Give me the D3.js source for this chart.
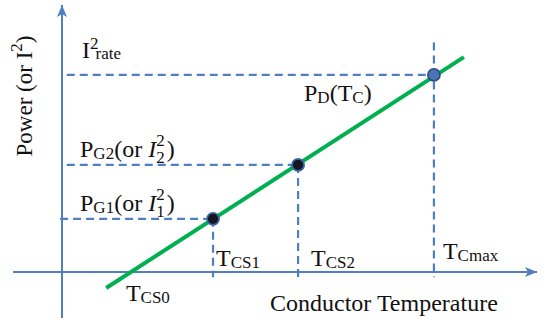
<!DOCTYPE html>
<html>
<head>
<meta charset="utf-8">
<script src="https://cdn.jsdelivr.net/npm/d3@7"></script>
<style>
  html, body { margin: 0; padding: 0; background: #fff; }
  svg text { font-family: "Liberation Serif", "Times New Roman", serif; fill: #111; }
</style>
</head>
<body>
<svg id="chart" width="546" height="322"></svg>
<script>
// Operating points on the power–temperature characteristic (arbitrary units)
const pointNames  = ["G1", "G2", "D"];
const pointTemps  = [31.8, 49.7, 78.3];
const pointPowers = [19.9, 40.1, 73.8];

// Straight characteristic P_D(T_C), given by its two end points
const lineTemps  = [9.3, 84.6];
const linePowers = [-6.0, 80.5];

// Crossing of the characteristic with the temperature axis
const tcs0 = 14.5;

// Extents of the guide lines and axes
const hGuideStart = [-0.4, 1.0, 1.0];   // left end of each horizontal guide
const vGuideTop   = [19.9, 40.1, 86.0]; // top end of each vertical guide
const guideBottom = -2.0;
const xAxisExtent = [-10.3, 100];
const yAxisExtent = [-17.2, 100];

const blue = "#4f7fc0";
const green = "#00b050";

const svg = d3.select("#chart");
const x = d3.scaleLinear().domain([0, 100]).range([62, 537]);
const y = d3.scaleLinear().domain([0, 100]).range([272, 5]);

// arrow head marker
svg.append("defs").append("marker")
  .attr("id", "arrow").attr("viewBox", "0 0 12 10")
  .attr("refX", 12).attr("refY", 5)
  .attr("markerWidth", 12).attr("markerHeight", 10)
  .attr("markerUnits", "userSpaceOnUse")
  .attr("orient", "auto")
  .append("path").attr("d", "M0,0 L12,5 L0,10 L3,5 Z").attr("fill", blue);

// axes
svg.append("line")
  .attr("x1", x(xAxisExtent[0])).attr("y1", y(0))
  .attr("x2", x(xAxisExtent[1])).attr("y2", y(0))
  .attr("stroke", blue).attr("stroke-width", 2)
  .attr("marker-end", "url(#arrow)");
svg.append("line")
  .attr("x1", x(0)).attr("y1", y(yAxisExtent[0]))
  .attr("x2", x(0)).attr("y2", y(yAxisExtent[1]))
  .attr("stroke", blue).attr("stroke-width", 2)
  .attr("marker-end", "url(#arrow)");

// dashed guides
const dash = "8,5";
const g = svg.append("g").attr("stroke", blue).attr("stroke-width", 2.2)
  .attr("stroke-dasharray", dash).attr("fill", "none");
pointTemps.forEach((t, i) => {
  g.append("line")
    .attr("x1", x(hGuideStart[i])).attr("y1", y(pointPowers[i]))
    .attr("x2", x(t)).attr("y2", y(pointPowers[i]));
  g.append("line")
    .attr("x1", x(t)).attr("y1", y(vGuideTop[i]))
    .attr("x2", x(t)).attr("y2", y(guideBottom));
});

// characteristic line
svg.append("path")
  .datum(d3.zip(lineTemps, linePowers))
  .attr("d", d3.line().x(d => x(d[0])).y(d => y(d[1])))
  .attr("stroke", green).attr("stroke-width", 4).attr("fill", "none");

// operating points
svg.selectAll("circle.pt").data(pointNames).join("circle")
  .attr("class", "pt")
  .attr("cx", (d, i) => x(pointTemps[i]))
  .attr("cy", (d, i) => y(pointPowers[i]))
  .attr("r", 6)
  .attr("fill", d => d === "D" ? "#4a74b4" : "#16161f")
  .attr("stroke", d => d === "D" ? "#2d4f86" : "#3a64a8")
  .attr("stroke-width", 1.8);

// ---- labels ----
const FS = 24, SUB = 17;
function label(px, py, parts, anchor) {
  const t = svg.append("text").attr("x", px).attr("y", py)
    .attr("font-size", FS).attr("text-anchor", anchor || "start");
  parts.forEach(p => {
    const s = t.append("tspan").text(p.t);
    if (p.size) s.attr("font-size", p.size);
    if (p.dy) s.attr("dy", p.dy);
    if (p.dx) s.attr("dx", p.dx);
    if (p.italic) s.attr("font-style", "italic");
  });
  return t;
}

// I²rate
label(82, 58, [{t: "I"}, {t: "2", size: SUB, dy: -9}, {t: "rate", size: SUB, dy: 10, dx: -3}]);
// P_D(T_C)
label(304, 101, [{t: "P"}, {t: "D", size: SUB, dy: 2}, {t: "(T", dy: -2}, {t: "C", size: SUB, dy: 2}, {t: ")", dy: -2}]);
// P_G2(or I_2^2)
label(80, 157, [{t: "P"}, {t: "G2", size: SUB, dy: 2}, {t: "(or ", dy: -2}, {t: "I", italic: true},
  {t: "2", size: SUB, dy: -11}, {t: "2", size: SUB, dy: 17, dx: -8.5}, {t: ")", dy: -6, dx: 2}]);
// P_G1(or I_1^2)
label(80, 211, [{t: "P"}, {t: "G1", size: SUB, dy: 2}, {t: "(or ", dy: -2}, {t: "I", italic: true},
  {t: "2", size: SUB, dy: -11}, {t: "1", size: SUB, dy: 17, dx: -8.5}, {t: ")", dy: -6, dx: 2}]);

// temperature marks
label(x(pointTemps[0]) + 3, 266, [{t: "T"}, {t: "CS1", size: SUB, dy: 2}]);
label(x(pointTemps[1]) + 13, 266, [{t: "T"}, {t: "CS2", size: SUB, dy: 2}]);
label(x(pointTemps[2]) + 9, 259, [{t: "T"}, {t: "Cmax", size: SUB, dy: 2}]);
label(x(tcs0) - 5, 301, [{t: "T"}, {t: "CS0", size: SUB, dy: 2}]);

// axis titles
label(270, 311, [{t: "Conductor Temperature"}]);
const yl = svg.append("text")
  .attr("transform", "translate(32,96) rotate(-90)")
  .attr("text-anchor", "middle").attr("font-size", FS - 1);
yl.append("tspan").text("Power (or I");
yl.append("tspan").text("2").attr("font-size", SUB).attr("dy", -10);
yl.append("tspan").text(")").attr("dy", 10);
</script>
</body>
</html>
